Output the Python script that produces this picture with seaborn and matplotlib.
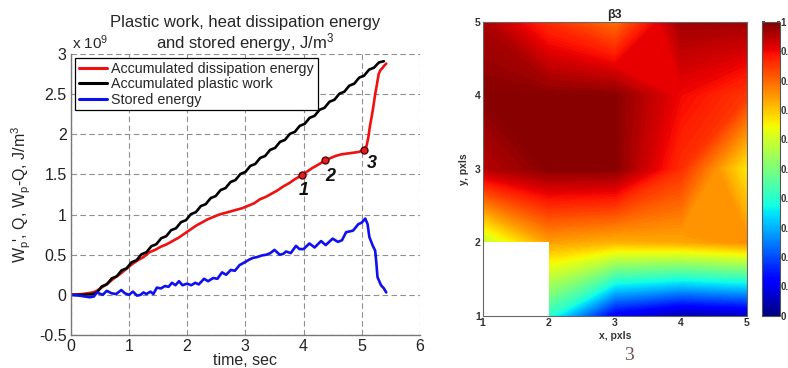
import numpy as np
import matplotlib
matplotlib.use("Agg")
import matplotlib.pyplot as plt
from matplotlib.patches import Rectangle
from matplotlib.ticker import FuncFormatter
import seaborn as sns

# ---------------- data (energies in units of 1e9 J/m^3) ----------------
t_work = [0.00, 0.20, 0.38, 0.45, 0.535, 0.62, 0.705, 0.79, 0.875, 0.96, 1.045, 1.13,
          1.215, 1.30, 1.385, 1.47, 1.555, 1.64, 1.725, 1.81, 1.895, 1.98, 2.065, 2.15,
          2.235, 2.32, 2.405, 2.49, 2.575, 2.66, 2.745, 2.83, 2.915, 3.00, 3.085, 3.17,
          3.255, 3.34, 3.425, 3.51, 3.595, 3.68, 3.765, 3.85, 3.935, 4.02, 4.105, 4.19,
          4.275, 4.36, 4.445, 4.53, 4.615, 4.70, 4.785, 4.87, 4.955, 5.04, 5.125, 5.21,
          5.295, 5.38]
w_work = [0.00, 0.00, 0.01, 0.03, 0.105, 0.13, 0.205, 0.23, 0.305, 0.33, 0.405, 0.43,
          0.505, 0.53, 0.605, 0.63, 0.705, 0.73, 0.805, 0.83, 0.905, 0.93, 1.005, 1.03,
          1.105, 1.13, 1.205, 1.23, 1.305, 1.33, 1.405, 1.43, 1.505, 1.53, 1.605, 1.63,
          1.705, 1.73, 1.805, 1.83, 1.905, 1.93, 2.005, 2.03, 2.105, 2.13, 2.205, 2.23,
          2.305, 2.33, 2.405, 2.43, 2.505, 2.53, 2.605, 2.63, 2.705, 2.73, 2.805, 2.83,
          2.895, 2.91]

t_heat = [0.00, 0.20, 0.38, 0.45, 0.55, 0.65, 0.75, 0.85, 0.95, 1.05, 1.15, 1.25, 1.35,
          1.45, 1.55, 1.65, 1.75, 1.85, 1.95, 2.05, 2.15, 2.25, 2.35, 2.45, 2.55, 2.65,
          2.75, 2.85, 2.95, 3.05, 3.15, 3.25, 3.35, 3.45, 3.55, 3.65, 3.75, 3.85, 3.97,
          4.05, 4.15, 4.25, 4.37, 4.45, 4.55, 4.65, 4.75, 4.85, 4.95, 5.04, 5.08, 5.11,
          5.14, 5.17, 5.20, 5.23, 5.26, 5.29, 5.32, 5.35, 5.38, 5.42]
q_heat = [0.00, 0.01, 0.03, 0.05, 0.10, 0.15, 0.21, 0.26, 0.32, 0.38, 0.43, 0.47, 0.53,
          0.56, 0.60, 0.63, 0.67, 0.71, 0.76, 0.81, 0.86, 0.90, 0.94, 0.97, 1.00, 1.02,
          1.04, 1.06, 1.08, 1.11, 1.14, 1.19, 1.22, 1.26, 1.30, 1.35, 1.39, 1.44, 1.49,
          1.53, 1.58, 1.62, 1.675, 1.70, 1.73, 1.75, 1.76, 1.77, 1.78, 1.81, 1.85, 1.95,
          2.10, 2.22, 2.35, 2.50, 2.62, 2.75, 2.80, 2.82, 2.85, 2.88]

t_stored = [0.00, 0.15, 0.33, 0.40, 0.45, 0.55, 0.62, 0.70, 0.78, 0.87, 0.93, 1.00, 1.07,
            1.14, 1.20, 1.25, 1.30, 1.37, 1.42, 1.48, 1.55, 1.62, 1.68, 1.74, 1.80, 1.86,
            1.92, 2.00, 2.07, 2.14, 2.20, 2.29, 2.36, 2.45, 2.52, 2.60, 2.67, 2.75, 2.82,
            2.90, 3.00, 3.07, 3.13, 3.20, 3.28, 3.36, 3.43, 3.50, 3.59, 3.65, 3.70, 3.78,
            3.87, 3.93, 4.00, 4.10, 4.19, 4.30, 4.38, 4.50, 4.59, 4.66, 4.73, 4.85, 4.94,
            5.00, 5.06, 5.10, 5.13, 5.19, 5.23, 5.25, 5.27, 5.33, 5.38, 5.42]
e_stored = [0.00, -0.01, -0.03, -0.02, 0.03, 0.00, 0.05, 0.02, 0.01, 0.06, 0.02, 0.00, 0.04,
            -0.01, 0.00, 0.03, 0.01, 0.04, 0.01, 0.09, 0.08, 0.11, 0.10, 0.15, 0.12, 0.17,
            0.12, 0.14, 0.12, 0.15, 0.13, 0.20, 0.17, 0.21, 0.20, 0.28, 0.25, 0.31, 0.30,
            0.37, 0.41, 0.44, 0.46, 0.47, 0.49, 0.50, 0.52, 0.56, 0.50, 0.51, 0.54, 0.52,
            0.61, 0.57, 0.57, 0.64, 0.59, 0.67, 0.62, 0.70, 0.66, 0.68, 0.78, 0.80, 0.88,
            0.90, 0.95, 0.88, 0.72, 0.61, 0.55, 0.40, 0.22, 0.12, 0.08, 0.03]

point_labels = ["1", "2", "3"]
point_t = [3.97, 4.37, 5.04]
point_q = [1.49, 1.675, 1.81]
label_t = [4.00, 4.46, 5.17]
label_q = [1.30, 1.47, 1.63]

series_names = ["Accumulated dissipation energy", "Accumulated plastic work", "Stored energy"]
x_ticks = [0, 1, 2, 3, 4, 5, 6]
y_ticks = [-0.5, 0, 0.5, 1, 1.5, 2, 2.5, 3]

# beta3 map: node values, rows y = 1..5, columns x = 1..5
x_nodes = [1, 2, 3, 4, 5]
y_nodes = [1, 2, 3, 4, 5]
beta_row_y1 = [np.nan, 0.40, 0.10, 0.03, 0.05]
beta_row_y2 = [0.58, 0.74, 0.72, 0.73, 0.76]
beta_row_y3 = [0.95, 0.99, 0.99, 0.86, 0.66]
beta_row_y4 = [0.99, 0.99, 0.99, 0.90, 0.85]
beta_row_y5 = [0.96, 0.86, 0.79, 0.97, 0.97]
cbar_ticks = [0, 0.1, 0.2, 0.3, 0.4, 0.5, 0.6, 0.7, 0.8, 0.9, 1.0]

# ---------------- style ----------------
sns.set_theme(style="white")
plt.rcParams["font.family"] = ["Liberation Sans", "DejaVu Sans"]
plt.rcParams["mathtext.fontset"] = "custom"
plt.rcParams["mathtext.rm"] = "Liberation Sans"
plt.rcParams["mathtext.it"] = "Liberation Sans"

fig = plt.figure(figsize=(7.88, 3.68), dpi=100)

# ---------------- left: energies ----------------
ax = fig.add_axes([0.0897, 0.0897, 0.4433, 0.7636])
red, black, blue = "#f01010", "#000000", "#1010ee"
sns.lineplot(x=t_heat, y=q_heat, ax=ax, color=red, lw=1.9, sort=False, label=series_names[0])
sns.lineplot(x=t_work, y=w_work, ax=ax, color=black, lw=1.9, sort=False, label=series_names[1])
sns.lineplot(x=t_stored, y=e_stored, ax=ax, color=blue, lw=1.9, sort=False, label=series_names[2])
ax.plot(point_t, point_q, ls="none", marker="o", ms=5, mfc="#e02020", mec="#5a0000", mew=1.0)
for lab, tx, ty in zip(point_labels, label_t, label_q):
    ax.text(tx, ty, lab, ha="center", va="center", fontsize=13, fontweight="bold",
            fontstyle="italic", color="#111111")

ax.set_xlim(0, 6)
ax.set_ylim(-0.5, 3)
ax.set_xticks(x_ticks)
ax.set_yticks(y_ticks)
ax.yaxis.set_major_formatter(FuncFormatter(lambda v, p: f"{v:g}"))
ax.tick_params(labelsize=11.5, direction="in", length=3, pad=3, colors="#222222")
ax.grid(True, color="#8f8f8f", ls=(0, (5, 3)), lw=0.8)
for s in ["top", "right"]:
    ax.spines[s].set_visible(False)
for s in ["left", "bottom"]:
    ax.spines[s].set_color("#777777")
    ax.spines[s].set_linewidth(1.0)
ax.set_xlabel("time, sec", fontsize=11.5, labelpad=-1)
ax.set_ylabel("W$_p$', Q, W$_p$-Q, J/m$^3$", fontsize=11.5, labelpad=4)
ax.set_title("Plastic work, heat dissipation energy\nand stored energy, J/m$^3$",
             fontsize=12, pad=4, linespacing=1.05)
ax.text(0.005, 1.008, "x 10$^9$", transform=ax.transAxes, fontsize=11, ha="left", va="bottom")
leg = ax.legend(loc="upper left", fontsize=10.3, frameon=True, fancybox=False, framealpha=1,
                edgecolor="#000000", borderpad=0.25, labelspacing=0.1, handlelength=2.0,
                handletextpad=0.3, borderaxespad=0.3)
leg.get_frame().set_linewidth(0.9)
for h in leg.get_lines():
    h.set_linewidth(2.2)

# ---------------- right: beta3 map ----------------
ax2 = fig.add_axes([0.6126, 0.1421, 0.3354, 0.7981])
grid = np.ma.masked_invalid(np.array([beta_row_y1, beta_row_y2, beta_row_y3,
                                      beta_row_y4, beta_row_y5]))
X, Y = np.meshgrid(x_nodes, y_nodes)
levels = np.linspace(0, 1.0001, 161)
cf = ax2.contourf(X, Y, grid, levels=levels, cmap="jet", vmin=0, vmax=1, antialiased=False)
ax2.add_patch(Rectangle((1, 1), 1, 1, facecolor="white", edgecolor="none", zorder=2))
ax2.set_xlim(1, 5)
ax2.set_ylim(1, 5)
ax2.set_xticks(x_nodes)
ax2.set_yticks(y_nodes)
ax2.tick_params(labelsize=7.5, direction="in", length=2, pad=1.5, colors="#333333")
for lbl in ax2.get_xticklabels() + ax2.get_yticklabels():
    lbl.set_fontweight("bold")
for s in ax2.spines.values():
    s.set_color("#666666")
    s.set_linewidth(0.8)
ax2.set_xlabel("x, pxls", fontsize=7.5, fontweight="bold", color="#333333", labelpad=2)
ax2.set_ylabel("y, pxls", fontsize=7.5, fontweight="bold", color="#333333", labelpad=4)
ax2.set_title("β3", fontsize=9, fontweight="bold", pad=3)

cax = fig.add_axes([0.967, 0.1421, 0.0228, 0.7981])
sm = plt.cm.ScalarMappable(cmap="jet", norm=plt.Normalize(0, 1))
cb = fig.colorbar(sm, cax=cax, ticks=cbar_ticks)
cb.ax.yaxis.set_major_formatter(FuncFormatter(lambda v, p: f"{v:g}"))
cb.ax.tick_params(labelsize=7, direction="in", length=2.5, pad=0.5, left=True, right=True,
                  colors="#333333")
for lbl in cb.ax.get_yticklabels():
    lbl.set_fontweight("bold")
cb.outline.set_edgecolor("#555555")
cb.outline.set_linewidth(0.8)

fig.text(0.798, 0.033, "3", fontsize=14, family=["Liberation Serif", "DejaVu Serif"],
         color="#6e5252", ha="center", va="center")

fig.savefig("out.png", dpi=100)
